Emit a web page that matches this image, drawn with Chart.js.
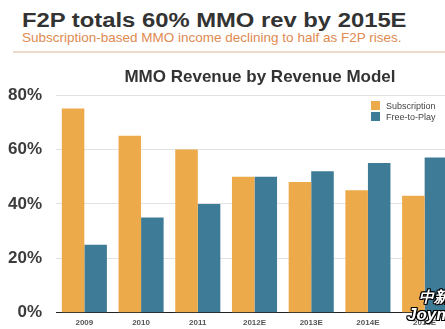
<!DOCTYPE html>
<html>
<head>
<meta charset="utf-8">
<script src="https://cdn.jsdelivr.net/npm/chart.js@4.4.1/dist/chart.umd.min.js"></script>
<style>
  html, body { margin: 0; padding: 0; background: #fff; overflow: hidden; }
  body { width: 445px; height: 329px; position: relative; font-family: 'Liberation Sans', Arial, sans-serif; }
  .headline { position: absolute; left: 22px; top: 9px; font-size: 20px; line-height: 23px; font-weight: bold; color: #333;
              white-space: nowrap; transform: scaleX(1.19); transform-origin: left top; }
  .subhead  { position: absolute; left: 22px; top: 30px; font-size: 13.5px; line-height: 15px; color: #e08a50; white-space: nowrap; }
  .rule     { position: absolute; left: 13px; top: 51px; width: 440px; height: 2px; background: #eedacb; }
  .ctitle   { position: absolute; left: 0; width: 520px; text-align: center; top: 67px; font-size: 17px; font-weight: bold; color: #333; white-space: nowrap; }
  .legend   { position: absolute; left: 371px; top: 101px; font-size: 9px; color: #444; line-height: 11px; }
  .legend span { display: inline-block; width: 9px; height: 9px; margin-right: 6px; vertical-align: -1px; }
  .wrap     { position: absolute; left: 0; top: 60px; width: 460px; height: 277px; }
  .mark     { position: absolute; left: 419px; top: 288px; font-weight: bold; font-style: italic; color: #fff; font-size: 15px; line-height: 17px;
              text-shadow: -1px -1px 0 #000, 1px -1px 0 #000, -1px 1px 0 #000, 1px 1px 0 #000, 0 1px 0 #000, 0 -1px 0 #000, 1px 0 0 #000, -1px 0 0 #000;
              white-space: nowrap; }
  .mark .l2 { display: block; margin-left: -12px; font-size: 17px; line-height: 20px; }
</style>
</head>
<body>
<div class="headline">F2P totals 60% MMO rev by 2015E</div>
<div class="subhead">Subscription-based MMO income declining to half as F2P rises.</div>
<div class="rule"></div>
<div class="wrap"><canvas id="mmo"></canvas></div>
<div class="ctitle">MMO Revenue by Revenue Model</div>
<div class="legend">
  <div><span style="background:#edaa4b"></span>Subscription</div>
  <div><span style="background:#3e7b96"></span>Free-to-Play</div>
</div>
<div class="mark">中新<span class="l2">Joyme</span></div>

<script>
/* data (share of MMO revenue, %) */
const years        = ['2009', '2010', '2011', '2012E', '2013E', '2014E', '2015E'];
const subscription = [75, 65, 60, 50, 48, 45, 43];
const freeToPlay   = [25, 35, 40, 50, 52, 55, 57];
const yTicks       = [0, 20, 40, 60, 80];

const ORANGE = '#edaa4b';
const TEAL   = '#3e7b96';

function createRevenueChart(canvasId) {
  const ctx = document.getElementById(canvasId);
  if (!ctx) return;

  return new Chart(ctx, {
    type: 'bar',
    data: {
      labels: years,
      datasets: [
        { label: 'Subscription', data: subscription, backgroundColor: ORANGE, borderWidth: 0 },
        { label: 'Free-to-Play', data: freeToPlay,   backgroundColor: TEAL,   borderWidth: 0 },
      ],
    },
    options: {
      responsive: true,
      maintainAspectRatio: false,
      animation: false,
      datasets: { bar: { categoryPercentage: 0.795, barPercentage: 1 } },
      layout: { padding: { top: 35, right: 7, left: 0, bottom: 0 } },
      plugins: { legend: { display: false }, tooltip: { enabled: false } },
      scales: {
        x: {
          grid:   { display: false, drawTicks: false },
          border: { display: true, color: '#222', width: 1 },
          ticks:  { color: '#555', padding: 5, font: { size: 8, weight: 'bold', family: "'Liberation Sans', Arial" } },
          afterFit: s => { s.height = 17; },
        },
        y: {
          min: 0, max: 80,
          afterBuildTicks: s => { s.ticks = yTicks.map(v => ({ value: v })); },
          grid:   { color: '#e2e2e2', drawTicks: false },
          border: { display: false },
          ticks:  {
            color: '#3c3c3c', padding: 14,
            font: { size: 17, weight: 'bold', family: "'Liberation Sans', Arial" },
            callback: v => v + '%',
          },
          afterFit: s => { s.width = 56; },
        },
      },
    },
  });
}

createRevenueChart('mmo');
</script>
</body>
</html>
